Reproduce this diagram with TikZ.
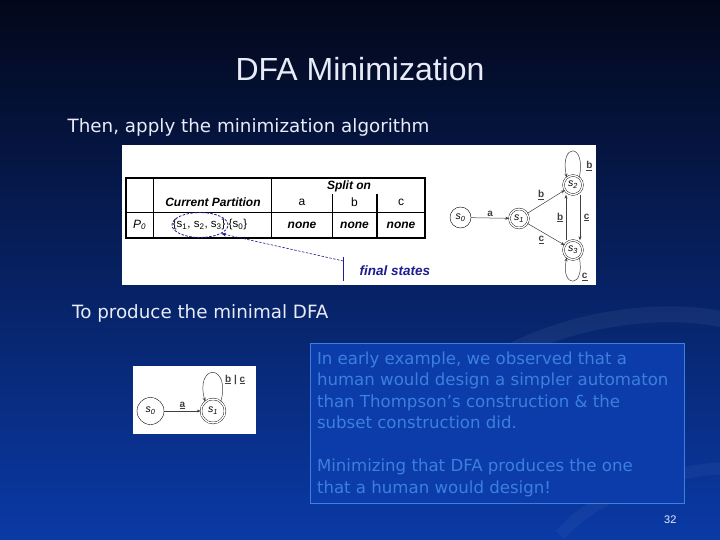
\documentclass[tikz,border=0pt]{standalone}
\usepackage{fontspec}
\setmainfont{Liberation Sans}
\newfontfamily\slidefont{DejaVu Sans}
\usetikzlibrary{positioning, arrows.meta, shapes.geometric, calc}
\definecolor{slidetop}{HTML}{03071A}
\definecolor{slidemid}{HTML}{0B2C86}
\definecolor{slidebot}{HTML}{0A3AA6}
\definecolor{slidetext}{HTML}{E8ECF8}
\definecolor{notetext}{HTML}{3C80DE}
\definecolor{noteedge}{HTML}{3C7FE0}
\definecolor{notefill}{HTML}{0B3CAA}
\definecolor{finalblue}{HTML}{1E1E90}
\newcommand{\sst}[1]{\textit{s}\textsubscript{\textit{#1}}}
\tikzset{
  dfastate/.style={draw, circle, minimum size=21pt, inner sep=0pt, font=\fontsize{10.5}{11}\selectfont},
  dfafinal/.style={dfastate, minimum size=19pt, double, double distance=1.4pt},
  trans/.style   ={-{Stealth[length=4pt, width=3pt]}, black!75, line width=0.5pt},
  lbl/.style     ={font=\fontsize{10}{11}\selectfont\bfseries, inner sep=1.5pt},
  cell/.style    ={font=\fontsize{12}{13}\selectfont\bfseries\itshape, inner sep=0pt},
  slidetxt/.style={text=slidetext, font=\slidefont\fontsize{18.3}{22}\selectfont, anchor=west, inner sep=0pt},
  notetxt/.style ={text=notetext, font=\slidefont\fontsize{16.6}{21.5}\selectfont, align=left, anchor=north west, inner sep=0pt},
  finaldash/.style={finalblue, line width=0.8pt, dash pattern=on 2.5pt off 1.5pt},
}
\begin{document}
\begin{tikzpicture}[x=1pt, y=1pt]
  % slide background
  \shade[top color=slidetop, middle color=slidemid, bottom color=slidebot] (0,0) rectangle (720,-540);
  \useasboundingbox (0,0) rectangle (720,-540);
  \draw[white, opacity=0.05, line width=16pt] (415,-445) .. controls (470,-330) and (640,-300) .. (725,-320);
  \draw[white, opacity=0.04, line width=12pt] (560,-535) .. controls (610,-480) and (690,-470) .. (725,-468);

  \node[text=slidetext, font=\fontsize{32}{38}\selectfont] (title) at (360,-69) {DFA Minimization};
  \node[slidetxt] (apply) at (67.5,-127) {Then, apply the minimization algorithm};

  % table and first automaton
  \fill[white] (122,-145) rectangle (595.5,-285);
  \draw[line width=1.1pt] (126,-178) rectangle (425,-238);
  \draw[line width=0.8pt] (153,-178) -- (153,-238);
  \draw[line width=0.8pt] (271.5,-178) -- (271.5,-238);
  \draw[line width=0.8pt] (126,-212.5) -- (425,-212.5);
  \draw[line width=0.8pt] (332,-194.5) -- (332,-238);
  \draw[line width=1.1pt] (377,-194.5) -- (377,-238);
  \node[cell] (spliton) at (349,-186.5) {Split on};
  \node[cell] (curpart) at (213,-202.5) {Current Partition};
  \node[cell, font=\fontsize{12}{13}\selectfont] (hda) at (302,-202.5) {a};
  \node[cell, font=\fontsize{12}{13}\selectfont] (hdb) at (354.5,-202.5) {b};
  \node[cell, font=\fontsize{12}{13}\selectfont] (hdc) at (401,-202.5) {c};
  \node[cell, font=\fontsize{12}{13}\selectfont\itshape] (pzero) at (139.5,-225) {P\textsubscript{0}};
  \node[cell, font=\fontsize{11.5}{13}\selectfont] (partset) at (210,-225)
    {\{s\textsubscript{1}, s\textsubscript{2}, s\textsubscript{3}\} \{s\textsubscript{0}\}};
  \node[cell] (nonea) at (302,-225) {none};
  \node[cell] (noneb) at (354.5,-225) {none};
  \node[cell] (nonec) at (401,-225) {none};
  \node[draw, finaldash, ellipse, minimum width=56pt, minimum height=25pt] (finalset) at (200,-225) {};
  \draw[finalblue] (343.4,-256.5) -- (343.4,-281);
  \coordinate (finalbar) at (343.4,-261);
  \draw[finaldash, line width=0.6pt, -{Stealth[length=5pt]}] (finalbar) -- (finalset.-22);
  \node[text=finalblue, font=\fontsize{13.5}{15}\selectfont\bfseries\itshape] (finaltxt) at (395,-270.3) {final states};

  \node[dfastate] (s0) at (460.5,-217.5) {\sst{0}};
  \node[dfafinal] (s1) at (519,-218.5) {\sst{1}};
  \node[dfafinal] (s2) at (573,-185) {\sst{2}};
  \node[dfafinal] (s3) at (573,-250) {\sst{3}};
  \draw[trans] (s0) -- node[lbl, above] {a} (s1);
  \draw[trans] (s1) -- node[lbl, above left] {\underline{b}} (s2);
  \draw[trans] (s1) -- node[lbl, below left] {\underline{c}} (s3);
  \draw[trans] ([xshift=-7pt]s3.north) -- node[lbl, left=1pt] {\underline{b}} ([xshift=-7pt]s2.south);
  \draw[trans] ([xshift=7pt]s2.south) -- node[lbl, right=2pt] {\underline{c}} ([xshift=7pt]s3.north);
  \draw[trans] (s2.50) .. controls +(78:36) and +(102:36) .. node[lbl, pos=0.12, right=4pt] {\underline{b}} (s2.130);
  \draw[trans] (s3.-50) .. controls +(-78:32) and +(-102:32) .. node[lbl, pos=0.3, right=2pt] {\underline{c}} (s3.-130);

  \node[slidetxt] (produce) at (72,-313.4) {To produce the minimal DFA};

  % minimal automaton
  \fill[white] (133,-366) rectangle (256,-433.5);
  \node[dfastate, minimum size=27pt] (m0) at (150.5,-411) {\sst{0}};
  \node[dfafinal, minimum size=24pt] (m1) at (213,-411) {\sst{1}};
  \draw[trans] (m0) -- node[lbl, above] {\underline{a}} (m1);
  \draw[trans] (m1.50) .. controls +(75:40) and +(105:40) .. node[lbl, pos=0.15, above right=1pt] {\underline{b} | \underline{c}} (m1.130);

  % note box
  \node[draw=noteedge, fill=notefill, minimum width=374pt, minimum height=160pt, anchor=north west] (notebox) at (309.5,-343.3) {};
  \node[notetxt] (note) at (316.8,-351.5)
    {In early example, we observed that a\\
     human would design a simpler automaton\\
     than Thompson’s construction \& the\\
     subset construction did.\\[21.5pt]
     Minimizing that DFA produces the one\\
     that a human would design!};

  \node[text=slidetext, font=\fontsize{11}{12}\selectfont] (pagenum) at (670.3,-519.3) {32};
\end{tikzpicture}
\end{document}
